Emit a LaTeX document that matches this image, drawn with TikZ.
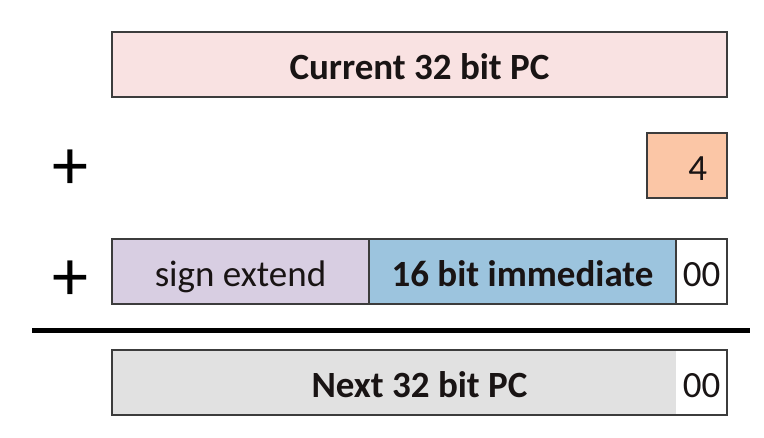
\documentclass[tikz,border=0pt]{standalone}
\usepackage{fontspec}
\setmainfont{Carlito}
\usetikzlibrary{positioning,calc}

\definecolor{pcpink}{RGB}{249,226,226}
\definecolor{fourpeach}{RGB}{251,198,166}
\definecolor{signlav}{RGB}{216,206,226}
\definecolor{immblue}{RGB}{156,196,222}
\definecolor{nextgray}{RGB}{225,225,225}
\definecolor{edge}{RGB}{60,60,60}
\definecolor{ink}{RGB}{25,20,20}

\tikzset{
  field/.style={draw=edge, line width=1.3pt, anchor=north west, minimum height=65pt,
    inner sep=4pt, outer sep=0pt, text height=30pt, text depth=0pt,
    text=ink, font=\fontsize{37}{44}\selectfont},
  bold field/.style={field, font=\fontsize{37}{44}\selectfont\bfseries},
  plus/.style={text=black, inner sep=0pt, font=\fontsize{72}{80}\selectfont}
}

\begin{document}
\begin{tikzpicture}[x=1pt,y=-1pt]
\useasboundingbox (0,0) rectangle (764,437);
% current PC
\node[bold field, fill=pcpink, minimum width=615pt] (cur) at (112,32) {Current 32 bit PC};
% + 4
\node[plus] (plusa) at (70,170) {+};
\node[field, fill=fourpeach, minimum width=80pt, text width=40pt, align=right] (four) at (647,133) {4};
% + offset
\node[plus] (plusb) at (70,281) {+};
\node[field, fill=signlav, minimum width=257pt] (sign) at (112,239) {sign extend};
\node[bold field, fill=immblue, minimum width=307pt, anchor=west] (imm) at (sign.east) {16 bit immediate};
\node[field, fill=white, minimum width=51pt, anchor=west] (low) at (imm.east) {00};
% sum line
\coordinate (linel) at (32,330);
\coordinate (liner) at (750,330);
\draw[black, line width=5pt] (linel) -- (liner);
% next PC
\node[bold field, draw=none, fill=nextgray, minimum width=564pt] (next) at (112,350) {};
\node[field, draw=none, fill=white, minimum width=51pt, anchor=west] (nextlow) at (next.east) {00};
\draw[edge, line width=1.3pt] (next.north west) rectangle (nextlow.south east);
\node[bold field, draw=none, anchor=center, text=ink] (nextlbl) at ($(next.north west)!0.5!(nextlow.south east)$) {Next 32 bit PC};
\end{tikzpicture}
\end{document}
